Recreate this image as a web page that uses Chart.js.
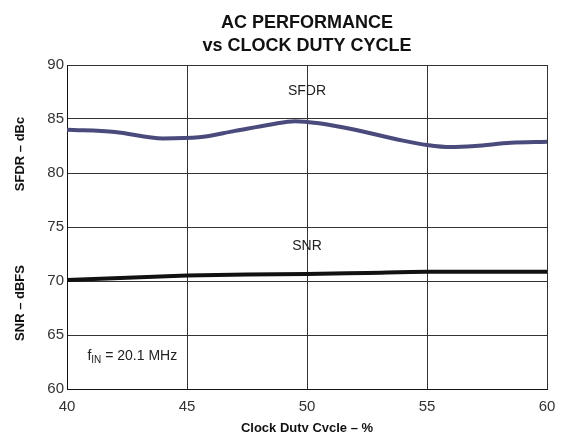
<head>
  <style>
    html,
    body {
      margin: 0;
      height: 100%;
      overflow: hidden;
      background: #fff;
    }
  </style>
</head>
<body>
  <div style="position: relative; width: 563px; height: 432px">
    <canvas id="chart1"></canvas>
  </div>
</body>
<script src="https://cdn.jsdelivr.net/npm/chart.js@4"></script>
<script>
  const sfdrDuty = [40, 42, 44, 45.5, 47, 48.5, 49.5, 50.5, 52, 54, 55, 56, 57, 58.5, 60]
  const sfdrVals = [84.0, 83.8, 83.2, 83.3, 83.9, 84.5, 84.8, 84.6, 84.0, 83.0, 82.6, 82.4, 82.5, 82.8, 82.9]
  const snrDuty = [40, 42.5, 45, 47.5, 50, 52.5, 55, 57.5, 60]
  const snrVals = [70.1, 70.3, 70.5, 70.6, 70.65, 70.75, 70.85, 70.85, 70.85]
  const xTicks = [40, 45, 50, 55, 60]
  const yTicks = [60, 65, 70, 75, 80, 85, 90]

  const toPts = (xs, ys) => xs.map((x, i) => ({ x: x, y: ys[i] }))
  const FONT = '"Liberation Sans", Arial'

  const labels = {
    id: 'labels',
    afterDraw(chart) {
      const ctx = chart.ctx
      const x = chart.scales.x
      const y = chart.scales.y
      ctx.save()
      ctx.fillStyle = '#222'
      ctx.font = '14px ' + FONT
      ctx.textAlign = 'center'
      ctx.textBaseline = 'middle'
      ctx.fillText('SFDR', x.getPixelForValue(50), y.getPixelForValue(87.6))
      ctx.fillText('SNR', x.getPixelForValue(50), y.getPixelForValue(73.2))
      // f_IN note
      ctx.textAlign = 'left'
      let px = x.getPixelForValue(40.85)
      const py = y.getPixelForValue(63)
      ctx.fillText('f', px, py)
      px += ctx.measureText('f').width
      ctx.font = '10px ' + FONT
      ctx.fillText('IN', px, py + 4)
      px += ctx.measureText('IN').width
      ctx.font = '14px ' + FONT
      ctx.fillText(' = 20.1 MHz', px, py)
      // two-part y axis title
      ctx.font = 'bold 13px ' + FONT
      ctx.textAlign = 'center'
      ctx.fillStyle = '#111'
      ctx.translate(20, 0)
      ctx.rotate(-Math.PI / 2)
      ctx.fillText('SFDR – dBc', -154, 0)
      ctx.fillText('SNR – dBFS', -303, 0)
      ctx.restore()
    }
  }

  new Chart(document.getElementById('chart1'), {
    type: 'line',
    data: {
      datasets: [
        {
          data: toPts(sfdrDuty, sfdrVals),
          borderColor: '#4b4a7c',
          borderWidth: 4,
          pointRadius: 0,
          tension: 0.4,
          cubicInterpolationMode: 'monotone'
        },
        {
          data: toPts(snrDuty, snrVals),
          borderColor: '#111',
          borderWidth: 4,
          pointRadius: 0,
          tension: 0.4,
          cubicInterpolationMode: 'monotone'
        }
      ]
    },
    plugins: [labels],
    options: {
      responsive: true,
      maintainAspectRatio: false,
      animation: false,
      layout: {
        padding: { left: 0, right: 16, top: 0, bottom: 0 }
      },
      plugins: {
        legend: { display: false },
        tooltip: { enabled: false },
        title: {
          display: true,
          fullSize: false,
          text: ['AC PERFORMANCE', 'vs CLOCK DUTY CYCLE'],
          color: '#111',
          font: { family: FONT, size: 18, weight: 'bold', lineHeight: 1.25 },
          padding: { top: 12, bottom: 8 }
        }
      },
      scales: {
        x: {
          type: 'linear',
          min: 40,
          max: 60,
          afterBuildTicks: s => { s.ticks = xTicks.map(v => ({ value: v })) },
          afterFit: s => {
            s.height = 43
            s.paddingLeft = 0
            s.paddingRight = 0
          },
          grid: { color: '#333', lineWidth: 1, drawTicks: false },
          border: { color: '#111', width: 1 },
          ticks: {
            color: '#333',
            padding: 9,
            font: { family: FONT, size: 15 }
          },
          title: {
            display: true,
            text: 'Clock Duty Cycle – %',
            color: '#111',
            font: { family: FONT, size: 13, weight: 'bold' },
            padding: { top: 8, bottom: -4 }
          }
        },
        y: {
          min: 60,
          max: 90,
          afterBuildTicks: s => { s.ticks = yTicks.map(v => ({ value: v })) },
          afterFit: s => { s.width = 67 },
          grid: { color: '#333', lineWidth: 1, drawTicks: false },
          border: { color: '#111', width: 1 },
          ticks: {
            color: '#333',
            padding: 3,
            font: { family: FONT, size: 15 }
          }
        }
      }
    }
  })
</script>
